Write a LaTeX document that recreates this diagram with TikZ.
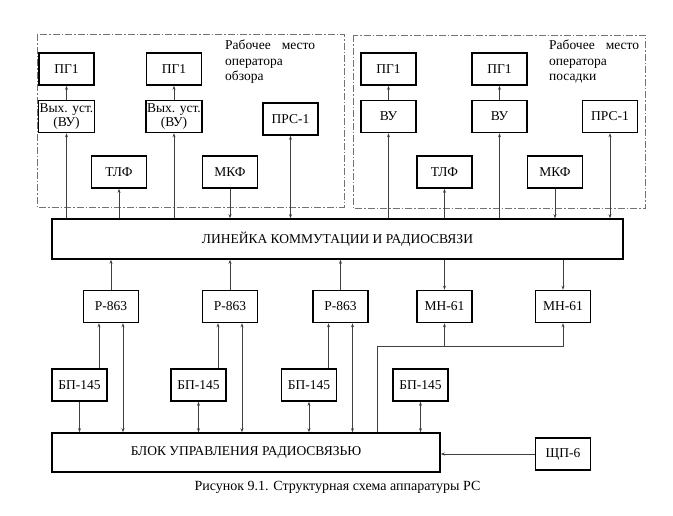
\documentclass[tikz,border=0pt]{standalone}
\usepackage{fontspec}
\setmainfont{Liberation Serif}
\usepackage{tikz}
\usetikzlibrary{
    positioning,
    calc,
    arrows.meta
}
\tikzset{
  basic/.style = {
      draw,
      line width=1.6pt,
      font=\fontsize{13.5}{14.5}\selectfont,
      align=center,
      inner sep=1pt
  },
  unit/.style = {
      basic,
      minimum width=55pt,
      minimum height=32pt
  },
  wide/.style = {
      basic,
      minimum height=40pt
  },
  frame/.style = {
      draw=black!55,
      line width=0.9pt,
      dash pattern=on 7pt off 2pt on 1.5pt off 2pt
  },
  place/.style = {
      font=\fontsize{13.5}{15.5}\selectfont,
      text width=90pt,
      align=left,
      inner sep=0pt
  },
  link/.style = {
      draw=black!75,
      line width=0.8pt
  },
  caption/.style = {
      font=\fontsize{14}{15}\selectfont
  }
}

\begin{document}
\begin{tikzpicture}[x=1pt, y=-1pt, node distance=47.5pt,
    >={Stealth[length=4pt,width=3pt]}]
        \useasboundingbox (0,0) rectangle (673,515);
        % Frames
        \draw[frame] (37,34) rectangle (344,207);
        \draw[frame] (353,35) rectangle (645,208);
        \node[place, anchor=north west] (obz) at (225,40) {Рабочее\hfill место\\оператора\\обзора};
        \node[place, anchor=north west] (pos) at (549,40) {Рабочее\hfill место\\оператора\\посадки};
        % Nodes
        \node[unit] (vua) at (66.5,116.5) {Вых. уст.\\(ВУ)};
        \node[unit] (vub) at (174,116.5) {Вых. уст.\\(ВУ)};
        \node[unit] (vuc) at (388.5,116.5) {ВУ};
        \node[unit] (vud) at (499.5,116.5) {ВУ};
        \node[unit, above of=vua] (pga) {ПГ1};
        \node[unit, above of=vub] (pgb) {ПГ1};
        \node[unit, above of=vuc] (pgc) {ПГ1};
        \node[unit, above of=vud] (pgd) {ПГ1};
        \node[unit] (prsa) at (290.5,119) {ПРС-1};
        \node[unit] (prsb) at (610,116.5) {ПРС-1};
        \node[unit] (tlfa) at (119,172) {ТЛФ};
        \node[unit] (mkfa) at (230,172) {МКФ};
        \node[unit] (tlfb) at (444.5,172) {ТЛФ};
        \node[unit] (mkfb) at (555,172) {МКФ};
        \node[wide, minimum width=571pt] (line) at (337.5,239) {ЛИНЕЙКА КОММУТАЦИИ И РАДИОСВЯЗИ};
        \node[unit] (ra) at (111,306.5) {Р-863};
        \node[unit] (rb) at (230,306.5) {Р-863};
        \node[unit] (rc) at (340.5,306.5) {Р-863};
        \node[unit] (mna) at (444.5,306.5) {МН-61};
        \node[unit] (mnb) at (563,306.5) {МН-61};
        \node[unit] (bpa) at (79.5,385) {БП-145};
        \node[unit] (bpb) at (198.5,385) {БП-145};
        \node[unit] (bpc) at (309,385) {БП-145};
        \node[unit] (bpd) at (420.5,385) {БП-145};
        \node[wide, minimum width=388pt, minimum height=39pt] (blok) at (246,452.5) {БЛОК УПРАВЛЕНИЯ РАДИОСВЯЗЬЮ};
        \node[unit] (shp) at (563,454) {ЩП-6};
        \node[caption] (cap) at (337.5,487) {Рисунок 9.1. Структурная схема аппаратуры РС};
        % Feet
        \coordinate (ra-l) at ([xshift=-12pt]ra.south);
        \coordinate (ra-r) at ([xshift=12pt]ra.south);
        \coordinate (rb-l) at ([xshift=-12pt]rb.south);
        \coordinate (rb-r) at ([xshift=12pt]rb.south);
        \coordinate (rc-l) at ([xshift=-12pt]rc.south);
        \coordinate (rc-r) at ([xshift=12pt]rc.south);
        \coordinate (bus) at (377,346);
        % Edges
        \path[link]
        (vua) edge[->] (pga)
        (vub) edge[->] (pgb)
        (vuc) edge[->] (pgc)
        (vud) edge[->] (pgd)
        (vua.south |- line.north) edge[->] (vua.south)
        (vub.south |- line.north) edge[->] (vub.south)
        (vuc.south |- line.north) edge[->] (vuc.south)
        (vud.south |- line.north) edge[->] (vud.south)
        (tlfa.south |- line.north) edge[->] (tlfa.south)
        (tlfb.south |- line.north) edge[->] (tlfb.south)
        (mkfa.south) edge[->] (mkfa.south |- line.north)
        (mkfb.south) edge[->] (mkfb.south |- line.north)
        (prsa.south) edge[<->] (prsa.south |- line.north)
        (prsb.south) edge[<->] (prsb.south |- line.north)
        (ra.north) edge[->] (ra.north |- line.south)
        (rb.north) edge[->] (rb.north |- line.south)
        (rc.north) edge[->] (rc.north |- line.south)
        (line.south -| mna.north) edge[->] (mna.north)
        (line.south -| mnb.north) edge[->] (mnb.north)
        (ra-l |- bpa.north) edge[->] (ra-l)
        (rb-l |- bpb.north) edge[->] (rb-l)
        (rc-l |- bpc.north) edge[->] (rc-l)
        (ra-r) edge[<->] (ra-r |- blok.north)
        (rb-r) edge[<->] (rb-r |- blok.north)
        (rc-r) edge[<->] (rc-r |- blok.north)
        (bpa.south) edge[->] (bpa.south |- blok.north)
        (bpb.south) edge[<->] (bpb.south |- blok.north)
        (bpc.south) edge[<->] (bpc.south |- blok.north)
        (bpd.south) edge[<->] (bpd.south |- blok.north)
        (shp) edge[->] (shp -| blok.east);
        \draw[link, ->] (bus |- blok.north) -- (bus) -| (mnb.south);
        \draw[link, ->] (bus -| mna.south) -- (mna.south);
    \end{tikzpicture}
\end{document}
